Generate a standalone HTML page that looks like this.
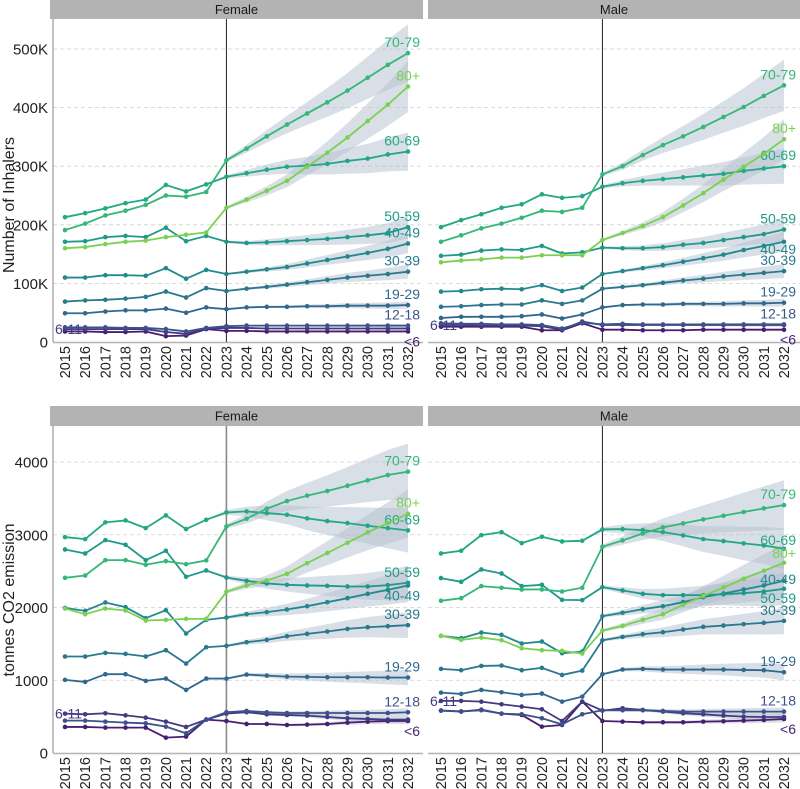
<!DOCTYPE html>
<html><head><meta charset="utf-8"><style>
html,body{margin:0;padding:0;background:#fff;}
svg{display:block;font-family:"Liberation Sans",Arial,sans-serif;}
</style></head><body>
<svg id="chart" width="800" height="789" viewBox="0 0 800 789" xmlns="http://www.w3.org/2000/svg"></svg>
<script>
const years = [2015,2016,2017,2018,2019,2020,2021,2022,2023,2024,2025,2026,2027,2028,2029,2030,2031,2032];
const ageGroups = ['<6','6-11','12-18','19-29','30-39','40-49','50-59','60-69','70-79','80+'];
const inhTicks = [0,100,200,300,400,500];
const inhTickLabels = ['0','100K','200K','300K','400K','500K'];
const co2Ticks = [0,1000,2000,3000,4000];
const co2TickLabels = ['0','1000','2000','3000','4000'];
const panelTitles = ['Female','Male','Female','Male'];

// values in thousands of inhalers
const inhalersFemale = [
 [18,18,17,17,18,10,11,22, 19,19,18,18,18,18,18,18,18,18],
 [22,22,22,22,22,17,14,23, 24,24,23,23,23,23,23,23,23,23],
 [25,25,25,24,24,22,18,24, 27,28,28,28,28,28,28,28,28,28],
 [49,49,52,54,54,57,50,59, 56,59,60,60,61,61,62,62,62,63],
 [69,71,72,74,77,86,76,92, 87,91,94,98,102,106,110,113,116,120],
 [110,110,114,114,113,126,108,123, 116,120,124,128,134,140,146,152,159,168],
 [171,172,179,181,179,195,172,181, 171,169,170,172,174,176,179,182,186,196],
 [213,220,228,237,243,268,257,269, 282,288,294,299,301,304,309,313,320,325],
 [191,202,216,224,234,250,248,256, 310,330,351,371,390,409,429,451,473,493],
 [160,162,167,171,173,179,183,187, 229,243,258,275,299,323,349,377,405,436]
];
const inhalersMale = [
 [26,26,26,26,26,20,20,32, 21,21,20,20,20,21,21,21,21,21],
 [29,29,28,28,28,27,21,35, 29,29,29,29,29,29,29,29,29,29],
 [32,31,31,30,30,29,23,33, 30,31,30,30,30,30,30,30,30,30],
 [41,43,43,43,44,47,40,47, 59,63,64,64,65,65,65,66,66,67],
 [60,61,63,64,64,71,65,71, 91,94,97,101,105,108,112,115,118,121],
 [86,87,90,91,90,97,87,93, 116,121,126,131,137,143,149,157,164,171],
 [147,149,156,158,157,164,151,153, 161,160,160,162,166,169,174,179,184,192],
 [196,208,218,229,235,252,246,249, 265,271,275,278,281,284,287,292,296,300],
 [171,182,194,202,212,224,222,229, 286,300,319,336,351,367,384,401,420,438],
 [136,139,141,144,144,148,148,148, 174,186,198,213,233,254,277,299,321,346]
];
// tonnes CO2
const co2Female = [
 [358,358,349,349,349,211,225,459, 440,399,399,385,390,399,417,431,440,440],
 [541,532,546,518,486,431,358,459, 541,560,532,523,514,495,477,468,459,459],
 [445,445,431,417,408,362,271,459, 560,578,560,550,550,550,550,550,550,560],
 [1005,977,1083,1083,991,1023,867,1023, 1023,1078,1064,1050,1046,1041,1041,1041,1037,1037],
 [1326,1326,1376,1362,1326,1413,1229,1454, 1472,1523,1555,1605,1638,1670,1706,1729,1743,1757],
 [1995,1954,2069,2005,1853,1963,1642,1830, 1862,1908,1936,1972,2018,2073,2128,2188,2243,2303],
 [2798,2743,2926,2862,2651,2780,2422,2509, 2413,2367,2330,2312,2303,2298,2289,2289,2307,2340],
 [2968,2940,3170,3197,3091,3266,3078,3206, 3307,3321,3298,3275,3225,3188,3160,3124,3091,3060],
 [2408,2440,2651,2651,2587,2638,2596,2647, 3115,3220,3358,3463,3537,3601,3674,3748,3821,3867],
 [1986,1908,1986,1959,1821,1830,1844,1844, 2216,2303,2372,2463,2610,2748,2890,3032,3160,3289]
];
const co2Male = [
 [583,569,596,541,523,362,385,706, 440,431,422,422,422,431,436,445,454,468],
 [716,716,706,670,638,601,440,706, 583,615,592,569,546,532,514,500,495,495],
 [583,573,587,541,532,477,394,532, 587,587,587,578,569,569,569,569,569,569],
 [830,812,867,835,798,817,706,775, 1083,1147,1156,1147,1147,1147,1147,1142,1138,1110],
 [1156,1138,1197,1202,1138,1170,1073,1133, 1550,1596,1633,1660,1697,1734,1752,1771,1789,1816],
 [1610,1578,1656,1624,1505,1532,1372,1394, 1881,1927,1977,2018,2073,2142,2193,2248,2303,2367],
 [2404,2353,2523,2468,2294,2312,2105,2101, 2280,2234,2188,2170,2170,2170,2183,2197,2220,2257],
 [2743,2780,2995,3036,2885,2972,2908,2917, 3073,3078,3064,3036,2991,2940,2913,2881,2853,2807],
 [2092,2128,2294,2271,2248,2248,2220,2271, 2835,2922,3018,3101,3156,3211,3261,3312,3362,3408],
 [1610,1555,1587,1550,1440,1413,1404,1367, 1683,1748,1830,1908,2037,2160,2275,2394,2505,2615]
];

const colors = ['#481f70','#443a83','#3b528b','#31688e','#2a788e','#23888e','#1f9a8a','#22a884','#35b779','#7ad151'];
// label vertical offsets (px) per panel, per age group
const labelOffsets = [
 [15,5,-6,-6,-6,-6,-6,-6,-6,-6],
 [15,5,-6,-6,-6,12,-6,-6,-6,-6],
 [15,5,-6,-6,-6,15,-6,-6,-6,-6],
 [15,5,-6,-6,-6,3,14,-4,-6,-5]
];
const NS = 'http://www.w3.org/2000/svg';
const svg = document.getElementById('chart');
function mk(tag, attrs, parent){ const e=document.createElementNS(NS,tag); for(const k in attrs) e.setAttribute(k,attrs[k]); (parent||svg).appendChild(e); return e; }

const panels = [
 {data:inhalersFemale, x0:53, x1:423, y0:19, y1:342, sx0:65, sx1:408, vmax:500/ (342-49)*(342-19), ticks:inhTicks, labels:inhTickLabels, left:true, strip:[50,0,373,19], vline:'#222', vw:1},
 {data:inhalersMale, x0:428, x1:800, y0:19, y1:342, sx0:441, sx1:784, vmax:500/(342-49)*(342-19), ticks:inhTicks, labels:inhTickLabels, left:false, strip:[428,0,372,19], vline:'#222', vw:1},
 {data:co2Female, x0:53, x1:423, y0:426, y1:753, sx0:65, sx1:408, vmax:4000/(753-462)*(753-426), ticks:co2Ticks, labels:co2TickLabels, left:true, strip:[50,406,373,20], vline:'#888', vw:1.6},
 {data:co2Male, x0:428, x1:800, y0:426, y1:753, sx0:441, sx1:784, vmax:4000/(753-462)*(753-426), ticks:co2Ticks, labels:co2TickLabels, left:false, strip:[428,406,372,20], vline:'#222', vw:1}
];

panels.forEach((p,pi)=>{
  const g = mk('g',{});
  
  
  const xs = y => p.sx0 + (y-years[0])*(p.sx1-p.sx0)/(years[years.length-1]-years[0]);
  const ys = v => p.y1 - v/p.vmax*(p.y1-p.y0);
  const st = mk('rect',{x:p.strip[0],y:p.strip[1],width:p.strip[2],height:p.strip[3],fill:'#b3b3b3'},g);
  
  
  const stt = mk('text',{x:p.strip[0]+p.strip[2]/2,y:p.strip[1]+p.strip[3]/2+4.5,'text-anchor':'middle','font-size':13,fill:'#1a1a1a'},g);
  stt.textContent = panelTitles[pi];
  
  
  p.ticks.forEach((t,i)=>{
    if(t>0){ const gl=mk('line',{x1:p.x0,x2:p.x1,y1:ys(t),y2:ys(t),stroke:'#d0d0d0','stroke-width':0.8,'stroke-dasharray':'4,3'},g);
      
       }
    if(p.left){ const tl=mk('text',{x:p.x0-5,y:ys(t)+5.5,'text-anchor':'end','font-size':15,fill:'#222'},g);
      tl.textContent=p.labels[i];
      
       }
  });
  if(p.left){ const ax=mk('line',{x1:p.x0,x2:p.x0,y1:p.y0,y2:p.y1,stroke:'#b3b3b3','stroke-width':1.6},g);
    
     }
  const bx=mk('line',{x1:p.x0,x2:p.x1,y1:p.y1+0.5,y2:p.y1+0.5,stroke:'#b3b3b3','stroke-width':1.6},g);
  
  
  years.forEach(yr=>{
    const t=mk('text',{transform:'translate('+(xs(yr)+5)+','+(p.y1+4)+') rotate(-90)','text-anchor':'end','font-size':14.5,fill:'#222'},g);
    t.textContent=yr;
    
    
  });
  const fStart = years.indexOf(2022);
  p.data.forEach((ser,si)=>{
    const up=[],dn=[];
    for(let i=fStart;i<years.length;i++){
      const t=(years[i]-2022)/10;
      const hw = ser[i]*0.1*t;
      up.push(xs(years[i])+','+ys(ser[i]+hw));
      dn.unshift(xs(years[i])+','+ys(Math.max(0,ser[i]-hw)));
    }
    const b=mk('polygon',{points:up.concat(dn).join(' '),fill:'#b4c0ce','fill-opacity':0.5},g);
    
    
  });
  const vl=mk('line',{x1:xs(2023),x2:xs(2023),y1:p.y0,y2:p.y1,stroke:p.vline,'stroke-width':p.vw},g);
  
  
  p.data.forEach((ser,si)=>{
    const pts=ser.map((v,i)=>xs(years[i])+','+ys(v)).join(' ');
    const l=mk('polyline',{points:pts,fill:'none',stroke:colors[si],'stroke-width':1.8,'stroke-linejoin':'round'},g);
    
    
    ser.forEach((v,i)=>{
      const c=mk('circle',{cx:xs(years[i]),cy:ys(v),r:2.3,fill:colors[si]},g);
      
      
    });
    if(si===1){
      const lt=mk('text',{x:p.x0+2,y:ys(ser[0])+labelOffsets[pi][si],'font-size':14,fill:colors[si],'text-anchor':'start'},g);
      lt.textContent=ageGroups[si];
      
      
    } else {
      const last=ser[ser.length-1];
      const lt=mk('text',{x:p.sx1+12,y:ys(last)+labelOffsets[pi][si],'font-size':14,fill:colors[si],'text-anchor':'end'},g);
      lt.textContent=ageGroups[si];
      
      
    }
  });
});
const t1=mk('text',{transform:'translate(14,205) rotate(-90)','text-anchor':'middle','font-size':16,fill:'#222'});
t1.textContent='Number of Inhalers';


const t2=mk('text',{transform:'translate(14,600) rotate(-90)','text-anchor':'middle','font-size':16,fill:'#222'});
t2.textContent='tonnes CO2 emission';


</script>
</body></html>
